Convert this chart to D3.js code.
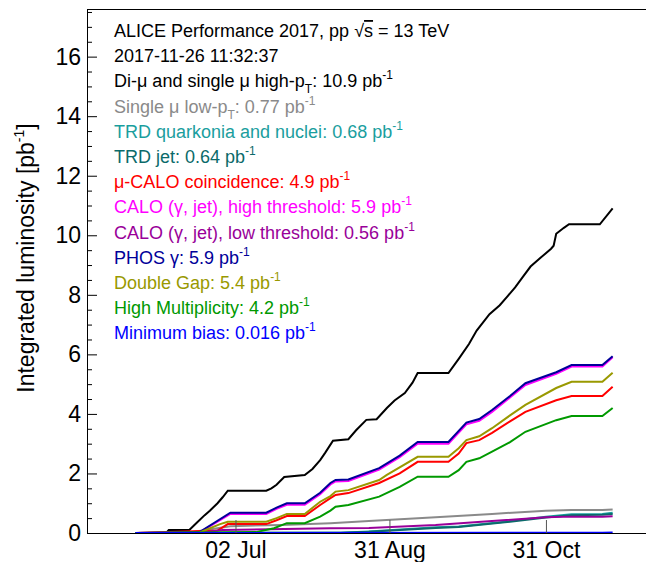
<!DOCTYPE html>
<html>
<head>
<meta charset="utf-8">
<script src="https://cdn.jsdelivr.net/npm/d3@7"></script>
<style>
  html, body { margin: 0; padding: 0; background: #fff; }
  svg { display: block; font-family: "Liberation Sans", Arial, Helvetica, sans-serif; }
</style>
</head>
<body>
<svg id="chart" width="646" height="562"></svg>
<script>
// ---------------- data ----------------
const diMu = [["2017-05-24",0],["2017-06-05",0],["2017-06-06",0.1],["2017-06-14",0.1],["2017-06-17",0.35],["2017-06-20",0.6],["2017-06-22",0.75],["2017-06-25",1.0],["2017-06-27",1.2],["2017-06-29",1.42],["2017-07-14",1.42],["2017-07-16",1.5],["2017-07-18",1.62],["2017-07-21",1.88],["2017-07-29",1.95],["2017-08-01",2.15],["2017-08-04",2.45],["2017-08-06",2.7],["2017-08-09",3.1],["2017-08-15",3.15],["2017-08-18",3.45],["2017-08-22",3.8],["2017-08-26",3.82],["2017-08-30",4.2],["2017-09-02",4.45],["2017-09-06",4.7],["2017-09-09",5.05],["2017-09-11",5.37],["2017-09-23",5.37],["2017-09-27",5.85],["2017-10-01",6.35],["2017-10-04",6.8],["2017-10-09",7.35],["2017-10-13",7.65],["2017-10-16",7.95],["2017-10-19",8.25],["2017-10-22",8.6],["2017-10-25",8.95],["2017-10-29",9.25],["2017-11-02",9.55],["2017-11-03",9.65],["2017-11-04",10.05],["2017-11-07",10.25],["2017-11-09",10.37],["2017-11-21",10.37],["2017-11-26",10.9]];
const singleMuLow = [["2017-05-24",0],["2017-06-14",0.02],["2017-06-30",0.23],["2017-07-20",0.27],["2017-08-08",0.33],["2017-08-23",0.4],["2017-09-18",0.53],["2017-10-10",0.64],["2017-10-31",0.75],["2017-11-10",0.77],["2017-11-22",0.77],["2017-11-26",0.79]];
const trdQuarkonia = [["2017-05-24",0],["2017-08-12",0.01],["2017-08-23",0.05],["2017-09-18",0.19],["2017-09-27",0.22],["2017-10-15",0.38],["2017-10-31",0.55],["2017-11-10",0.63],["2017-11-22",0.64],["2017-11-26",0.68]];
const trdJet = [["2017-05-24",0],["2017-08-12",0.01],["2017-08-23",0.04],["2017-09-18",0.17],["2017-09-27",0.2],["2017-10-15",0.36],["2017-10-31",0.52],["2017-11-10",0.6],["2017-11-22",0.61],["2017-11-26",0.64]];
const muCalo = [["2017-05-24",0],["2017-06-25",0.08],["2017-06-29",0.3],["2017-07-14",0.3],["2017-07-18",0.43],["2017-07-22",0.57],["2017-07-29",0.57],["2017-08-04",0.94],["2017-08-08",1.17],["2017-08-10",1.28],["2017-08-15",1.34],["2017-08-27",1.68],["2017-09-04",2.0],["2017-09-11",2.39],["2017-09-23",2.39],["2017-09-27",2.67],["2017-09-30",3.02],["2017-10-05",3.12],["2017-10-10",3.36],["2017-10-17",3.75],["2017-10-23",4.07],["2017-11-04",4.46],["2017-11-10",4.6],["2017-11-22",4.6],["2017-11-26",4.91]];
const caloHigh = [["2017-05-24",0],["2017-06-18",0.02],["2017-06-30",0.64],["2017-07-14",0.64],["2017-07-18",0.81],["2017-07-22",0.95],["2017-07-29",0.95],["2017-08-04",1.3],["2017-08-08",1.63],["2017-08-10",1.73],["2017-08-15",1.75],["2017-08-27",2.13],["2017-09-04",2.55],["2017-09-11",3.0],["2017-09-23",3.0],["2017-09-30",3.65],["2017-10-05",3.77],["2017-10-10",4.07],["2017-10-17",4.55],["2017-10-23",4.97],["2017-11-04",5.35],["2017-11-10",5.59],["2017-11-22",5.59],["2017-11-26",5.9]];
const caloLow = [["2017-05-24",0],["2017-06-18",0.01],["2017-06-27",0.1],["2017-08-08",0.16],["2017-08-23",0.17],["2017-09-18",0.27],["2017-10-10",0.4],["2017-10-31",0.53],["2017-11-10",0.55],["2017-11-22",0.55],["2017-11-26",0.56]];
const phos = [["2017-05-24",0],["2017-06-18",0.03],["2017-06-30",0.68],["2017-07-14",0.68],["2017-07-18",0.85],["2017-07-22",1.0],["2017-07-29",1.0],["2017-08-04",1.35],["2017-08-08",1.68],["2017-08-10",1.78],["2017-08-15",1.8],["2017-08-27",2.18],["2017-09-04",2.6],["2017-09-11",3.06],["2017-09-23",3.06],["2017-09-30",3.71],["2017-10-05",3.83],["2017-10-10",4.13],["2017-10-17",4.6],["2017-10-23",5.03],["2017-11-04",5.4],["2017-11-10",5.64],["2017-11-22",5.64],["2017-11-26",5.94]];
const doubleGap = [["2017-05-24",0],["2017-06-18",0.02],["2017-06-26",0.3],["2017-06-29",0.38],["2017-07-14",0.38],["2017-07-18",0.5],["2017-07-22",0.64],["2017-07-29",0.64],["2017-08-04",1.05],["2017-08-08",1.24],["2017-08-10",1.39],["2017-08-15",1.44],["2017-08-27",1.78],["2017-08-30",1.95],["2017-09-11",2.56],["2017-09-23",2.56],["2017-09-27",2.85],["2017-09-30",3.12],["2017-10-05",3.25],["2017-10-10",3.52],["2017-10-17",3.95],["2017-10-23",4.3],["2017-11-04",4.87],["2017-11-10",5.08],["2017-11-22",5.08],["2017-11-26",5.38]];
const highMult = [["2017-05-24",0],["2017-07-10",0.03],["2017-07-17",0.16],["2017-07-22",0.33],["2017-07-29",0.33],["2017-08-04",0.55],["2017-08-08",0.75],["2017-08-10",0.88],["2017-08-15",0.94],["2017-08-27",1.22],["2017-09-04",1.55],["2017-09-11",1.89],["2017-09-23",1.89],["2017-09-27",2.11],["2017-09-30",2.39],["2017-10-05",2.51],["2017-10-10",2.73],["2017-10-17",3.05],["2017-10-23",3.4],["2017-11-04",3.79],["2017-11-10",3.93],["2017-11-22",3.93],["2017-11-26",4.2]];
const minBias = [["2017-05-24",0],["2017-11-22",0.008],["2017-11-26",0.016]];

const seriesData = [diMu, singleMuLow, trdQuarkonia, trdJet, muCalo, caloHigh, caloLow, phos, doubleGap, highMult, minBias];
const seriesColors = ["#000000", "#8a8a8a", "#1a9e9e", "#0b6a6a", "#ff0000", "#ff00ff", "#990099", "#000099", "#999900", "#009900", "#0000ff"];
const legendNames = ["Di-\u03bc and single \u03bc high-p", "Single \u03bc low-p", "TRD quarkonia and nuclei", "TRD jet", "\u03bc-CALO coincidence", "CALO (\u03b3, jet), high threshold", "CALO (\u03b3, jet), low threshold", "PHOS \u03b3", "Double Gap", "High Multiplicity", "Minimum bias"];
const legendSubs = ["T", "T", "", "", "", "", "", "", "", "", ""];
const legendValues = ["10.9", "0.77", "0.68", "0.64", "4.9", "5.9", "0.56", "5.9", "5.4", "4.2", "0.016"];
const headerLines = ["ALICE Performance 2017, pp", "2017-11-26 11:32:37"];
const yMajorTicks = [0, 2, 4, 6, 8, 10, 12, 14, 16];
const xTickDates = ["2017-07-02", "2017-08-31", "2017-10-31"];
const yTitle = "Integrated luminosity [pb";

// ---------------- drawing ----------------
(function () {
const svg = d3.select("#chart");
const parse = d3.timeParse("%Y-%m-%d");
const pL = 87, pR = 646, pT = 9, pB = 533;

const x = d3.scaleTime()
  .domain([new Date(2017, 4, 5, 3), new Date(2017, 11, 9)])
  .range([pL, pR]);
const y = d3.scaleLinear().domain([0, 17.6]).range([pB, pT]);

const line = d3.line().x(d => x(parse(d[0]))).y(d => y(d[1]));
const gLines = svg.append("g");
seriesData.forEach((s, i) => {
  gLines.append("path")
    .attr("d", line(s))
    .attr("fill", "none")
    .attr("stroke", seriesColors[i])
    .attr("stroke-width", 2)
    .attr("stroke-linejoin", "miter");
});

const minor = d3.range(0, 17.6, 0.5).filter(v => v % 2 !== 0);
const yAxisMinor = svg.append("g").attr("transform", `translate(${pL},0)`)
  .call(d3.axisLeft(y).tickValues(minor).tickSize(-5).tickSizeOuter(0).tickFormat(""));
yAxisMinor.select(".domain").remove();
const yAxis = svg.append("g").attr("transform", `translate(${pL},0)`)
  .call(d3.axisLeft(y).tickValues(yMajorTicks).tickSize(-10).tickSizeOuter(0).tickPadding(6).tickFormat(d3.format("d")));
yAxis.select(".domain").remove();
svg.selectAll(".tick line").attr("stroke", "#000").attr("stroke-width", 1);
yAxis.selectAll("text").attr("font-size", 23).attr("fill", "#000")
  .attr("font-family", "Liberation Sans, Arial, sans-serif");

const xAxis = svg.append("g").attr("transform", `translate(0,${pB})`)
  .call(d3.axisBottom(x).tickValues(xTickDates.map(parse)).tickSize(-13).tickSizeOuter(0).tickPadding(8.5)
    .tickFormat(d3.timeFormat("%d %b")));
xAxis.select(".domain").remove();
xAxis.selectAll(".tick line").attr("stroke", "#555").attr("stroke-width", 1);
xAxis.selectAll("text").attr("font-size", 23).attr("fill", "#000")
  .attr("font-family", "Liberation Sans, Arial, sans-serif");

svg.append("line").attr("x1", pL + 0.5).attr("x2", pL + 0.5).attr("y1", pT).attr("y2", pB + 0.5)
  .attr("stroke", "#000").attr("stroke-width", 1);
svg.append("line").attr("x1", pL).attr("x2", pR).attr("y1", pT + 0.5).attr("y2", pT + 0.5)
  .attr("stroke", "#000").attr("stroke-width", 1);
svg.append("line").attr("x1", pL).attr("x2", pR).attr("y1", pB + 0.5).attr("y2", pB + 0.5)
  .attr("stroke", "#000").attr("stroke-width", 1);

const yt = svg.append("text")
  .attr("transform", `translate(34,258) rotate(-90)`)
  .attr("text-anchor", "middle")
  .attr("font-size", 23)
  .attr("fill", "#000");
yt.append("tspan").text(yTitle);
yt.append("tspan").attr("font-size", 14).attr("dy", -10).text("-1");
yt.append("tspan").attr("dy", 10).text("]");

const lx = 114, ly0 = 37, ldy = 25.2, fs = 18;
const h1 = svg.append("text").attr("x", lx).attr("y", ly0).attr("font-size", fs).attr("fill", "#000");
h1.append("tspan").text(headerLines[0] + " ");
h1.append("tspan").text("\u221a");
h1.append("tspan").attr("text-decoration", "overline").text("s");
h1.append("tspan").text(" = 13 TeV");
svg.append("text").attr("x", lx).attr("y", ly0 + ldy).attr("font-size", fs).attr("fill", "#000").text(headerLines[1]);

legendNames.forEach((name, i) => {
  const t = svg.append("text").attr("x", lx).attr("y", ly0 + (i + 2) * ldy)
    .attr("font-size", fs).attr("fill", seriesColors[i]);
  t.append("tspan").text(name);
  if (legendSubs[i]) {
    t.append("tspan").attr("font-size", 12).attr("dy", 6).text(legendSubs[i]);
    t.append("tspan").attr("dy", -6).text(": " + legendValues[i] + " pb");
  } else {
    t.append("tspan").text(": " + legendValues[i] + " pb");
  }
  t.append("tspan").attr("font-size", 12).attr("dy", -8).text("-1");
});
})();
</script>
</body>
</html>
